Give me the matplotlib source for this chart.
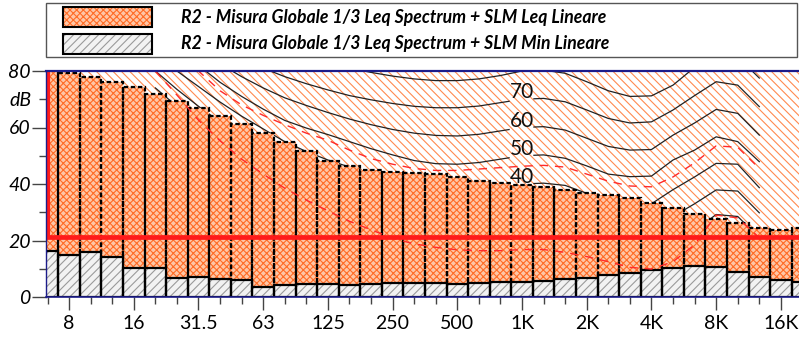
import numpy as np
import matplotlib
matplotlib.use("Agg")
import matplotlib.pyplot as plt
from matplotlib.patches import Rectangle

plt.rcParams['font.family'] = ['Lato', 'DejaVu Sans']
plt.rcParams['hatch.linewidth'] = 0.8

# 1/3 octave bands (6.3 Hz .. 20 kHz)
bands = ["6.3", "8", "10", "12.5", "16", "20", "25", "31.5", "40", "50", "63", "80",
         "100", "125", "160", "200", "250", "315", "400", "500", "630", "800",
         "1K", "1.25K", "1.6K", "2K", "2.5K", "3.15K", "4K", "5K", "6.3K", "8K",
         "10K", "12.5K", "16K", "20K"]
tick_labels = ["8", "16", "31.5", "63", "125", "250", "500", "1K", "2K", "4K", "8K", "16K"]

# Leq spectrum (dB)
leq = [80.5, 79.4, 78.0, 76.2, 74.2, 71.9, 69.3, 66.9, 64.1, 61.3, 58.2, 55.0,
       51.6, 48.2, 46.4, 45.0, 44.2, 43.9, 43.5, 42.6, 41.2, 40.2, 39.5, 38.9,
       38.0, 36.9, 36.1, 35.1, 33.2, 31.4, 29.4, 27.5, 26.1, 24.3, 23.7, 24.4]
# Min spectrum (dB)
lmin = [16.3, 14.9, 16.0, 14.3, 10.4, 10.1, 6.8, 7.0, 6.3, 6.0, 3.7, 4.2,
        4.6, 4.6, 4.2, 4.6, 4.8, 4.8, 4.8, 4.6, 4.8, 5.4, 5.4, 5.8,
        6.4, 6.8, 7.8, 8.4, 9.6, 10.1, 11.0, 10.7, 9.0, 7.2, 6.0, 5.4]

# equal-loudness contours, 20 Hz .. 12.5 kHz (band index 5..33)
contour_start = 5
contour_levels = [80, 70, 60, 50, 40, 30, 20]
contour_80 = [112, 106, 101, 96, 92, 88.5, 86.5, 85, 83, 81, 79.5, 78.2, 77.2, 76.6, 76.6,
              77.2, 78.4, 80, 80.3, 79.2, 76.2, 73, 71, 71.2, 75, 81.3, 86, 85, 77.5]
contour_70 = [106, 100, 95, 90, 85, 81, 78, 75.5, 73.3, 71.3, 69.8, 68.5, 67.5, 67, 67,
              67.6, 68.8, 70, 70.3, 69.1, 66.2, 63.2, 61.6, 62, 66.2, 71.3, 76.2, 75, 67.4]
contour_60 = [100, 94, 88, 82.5, 78, 74, 70.5, 67.8, 65.3, 63, 61, 59.3, 58, 57.2, 57,
              57.6, 58.8, 60, 60.3, 59.1, 56.2, 53.3, 52, 52.2, 57.3, 61.6, 66.4, 65, 57.3]
contour_50 = [95, 88, 82, 76, 71, 66.5, 62.5, 59.8, 57.5, 55, 52.5, 50.3, 48.3, 47.2, 47,
              47.6, 48.8, 50, 50.3, 49.1, 46.4, 43.5, 42.6, 42.8, 48.5, 52, 56.7, 55, 47.9]
contour_40 = [86, 80, 74.5, 69, 64, 59.5, 55, 51.5, 48.5, 46, 43.8, 42, 40.5, 39.5, 39,
              39, 39.3, 40, 40.3, 39.5, 36.7, 34, 32.5, 33, 38, 42.5, 47.3, 47, 38.7]
contour_30 = [80, 73.5, 67.5, 62, 56.5, 51.5, 47, 43, 39.5, 36.5, 34, 32.3, 31, 30, 29.5,
              29.4, 29.6, 30, 30.2, 29.5, 27, 24.3, 23, 23.5, 28.5, 33, 37.9, 37.5, 29.8]
contour_20 = [74, 67.5, 61, 55, 49.5, 44, 39, 35, 31, 28, 25.5, 23.5, 22, 21, 20.3,
              19.8, 19.8, 20, 20.2, 19.5, 17, 14.5, 13.3, 14, 19, 23.5, 29.2, 28.5, 21]
labelled_levels = [70, 60, 50, 40]

# loudness curves of the measurement, 20 Hz .. 12.5 kHz
loud_hi = [96, 88, 80, 73, 68, 64.3, 61, 58, 55.5, 52, 49, 47, 45.5, 44.8, 44.8, 45.3,
           45.8, 46.3, 46.6, 46, 43.5, 41, 39.3, 39, 42.5, 47.5, 53.5, 53, 45.5]
loud_lo = [80, 71.5, 62.6, 55.3, 48.8, 43.5, 38.5, 34.3, 30.5, 26.8, 23.8, 20.8, 18.8,
           17.6, 16.7, 16.4, 16.4, 16.8, 16.8, 15.8, 14.3, 12.5, 10.5, 9.9, 12.5, 18.5,
           29, 28, 21]

cursor_level = 21.3
cursor_band = 0

x = np.arange(len(bands))

fig = plt.figure(figsize=(7.99, 3.42), dpi=100)
ax = fig.add_axes([46 / 799, 1 - 297 / 342, (799 - 46) / 799, (297 - 71) / 342])
ax.set_xlim(-0.07, 34.84)
ax.set_ylim(0, 80)

# hatched background
ax.add_patch(Rectangle((0, 0), 1, 1, transform=ax.transAxes, facecolor="white",
                       edgecolor="#ff8a50", hatch="\\\\\\\\", lw=0, zorder=0))

# contour lines, broken around the 1 kHz label
curves = [contour_80, contour_70, contour_60, contour_50, contour_40, contour_30, contour_20]
cx = np.arange(contour_start, contour_start + len(contour_80))
i1k = bands.index("1K")
for lev, cv in zip(contour_levels, curves):
    cv = np.asarray(cv, float)
    if lev in labelled_levels:
        gap_l, gap_r = i1k - 0.6, i1k + 0.55
        left = cx < gap_l
        right = cx > gap_r
        ax.plot(np.r_[cx[left], gap_l], np.r_[cv[left], np.interp(gap_l, cx, cv)],
                color="#222222", lw=0.9, zorder=1)
        ax.plot(np.r_[gap_r, cx[right]], np.r_[np.interp(gap_r, cx, cv), cv[right]],
                color="#222222", lw=0.9, zorder=1)
        ax.text(i1k, np.interp(i1k, cx, cv) + 0.3, str(lev), ha="center",
                va="baseline", fontsize=15, color="#111111", zorder=1)
    else:
        ax.plot(cx, cv, color="#222222", lw=0.9, zorder=1)

# Leq bars
ax.bar(x, leq, width=1.0, facecolor="#ffc6a6", edgecolor="#ff6c26", hatch="xxxxx",
       lw=0, zorder=2)
ax.bar(x, leq, width=1.0, facecolor="none", edgecolor="black", lw=1.6,
       linestyle=(0, (2.0, 1.2)), zorder=2.1)

# Min bars
ax.bar(x, lmin, width=1.0, facecolor="#f2f2f2", edgecolor="#9a9a9a", hatch="////",
       lw=0, zorder=3)
ax.bar(x, lmin, width=1.0, facecolor="none", edgecolor="black", lw=1.6, zorder=3.1)

# loudness curves
ax.plot(cx, loud_hi, color="#ff2a2a", lw=1.0, ls=(0, (6, 5)), zorder=4)
ax.plot(cx, loud_lo, color="#ff2a2a", lw=1.0, ls=(0, (6, 5)), zorder=4)

# cursor
ax.axhline(cursor_level, color="#ff1a1a", lw=3.4, zorder=5)
ax.plot([cursor_band, cursor_band], [cursor_level, 80], color="#ff1a1a", lw=3.0,
        zorder=5, solid_capstyle="butt")

# axes styling
navy = "#1c1c8a"
ax.spines["right"].set_visible(False)
ax.spines["top"].set_color(navy)
ax.spines["top"].set_linewidth(1.6)
ax.spines["left"].set_color(navy)
ax.spines["left"].set_linewidth(1.0)
ax.spines["bottom"].set_color(navy)
ax.spines["bottom"].set_linewidth(1.2)
for s in ax.spines.values():
    s.set_zorder(6)

tick_pos = [bands.index(t) for t in tick_labels]
ax.set_xticks(tick_pos, tick_labels)
ax.set_xticks(x[(x >= 0) & (x <= 34)], minor=True)
ax.tick_params(axis="x", which="major", length=9, width=1.0, color="#444444",
               labelsize=14, pad=4)
ax.tick_params(axis="x", which="minor", length=5, width=1.0, color="#444444")

ax.set_yticks([0, 20, 40, 60, 80], ["0", "20", "40", "60", "80"])
ax.set_yticks([10, 30, 50, 70], ["", "", "", "dB"], minor=True)
ax.tick_params(axis="y", which="major", length=10, width=1.0, color="#444444",
               labelsize=14, pad=1)
ax.tick_params(axis="y", which="minor", length=5, width=1.0, color="#444444",
               labelsize=14, pad=5.5)
for lab in ax.get_yticklabels() + ax.get_yticklabels(minor=True):
    lab.set_fontstyle("italic")

# legend box
W, H = 799, 342
def fx(px):
    return px / W
def fy(py):
    return 1 - py / H

fig.add_artist(Rectangle((fx(46), fy(57)), fx(797) - fx(46), fy(3) - fy(57),
                         transform=fig.transFigure, facecolor="white",
                         edgecolor="#555555", lw=1.0))
fig.add_artist(Rectangle((fx(63), fy(27)), fx(152) - fx(63), fy(7) - fy(27),
                         transform=fig.transFigure, facecolor="#ffc6a6",
                         edgecolor="#ff6c26", hatch="xxxxx", lw=0))
fig.add_artist(Rectangle((fx(63), fy(27)), fx(152) - fx(63), fy(7) - fy(27),
                         transform=fig.transFigure, facecolor="none",
                         edgecolor="black", lw=1.5))
fig.add_artist(Rectangle((fx(63), fy(54)), fx(152) - fx(63), fy(34) - fy(54),
                         transform=fig.transFigure, facecolor="#f2f2f2",
                         edgecolor="#9a9a9a", hatch="////", lw=0))
fig.add_artist(Rectangle((fx(63), fy(54)), fx(152) - fx(63), fy(34) - fy(54),
                         transform=fig.transFigure, facecolor="none",
                         edgecolor="black", lw=1.5))
legend_texts = ["R2 - Misura Globale 1/3 Leq Spectrum + SLM Leq Lineare",
                "R2 - Misura Globale 1/3 Leq Spectrum + SLM Min Lineare"]
for ty, t in zip([17, 43.5], legend_texts):
    fig.text(fx(181), fy(ty), t, fontsize=12.7, fontweight="bold", fontstyle="italic",
             va="center", ha="left", color="black")

fig.savefig("out.png", dpi=100)
